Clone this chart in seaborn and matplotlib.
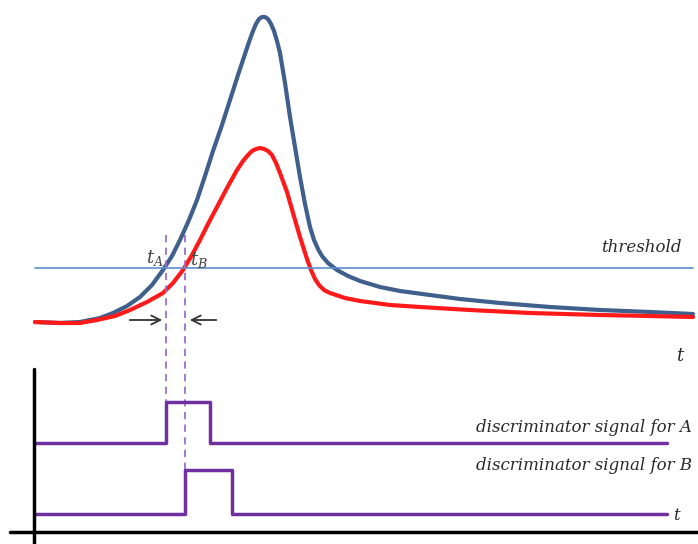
import numpy as np
import pandas as pd
import seaborn as sns
import matplotlib.pyplot as plt

# curves (x, y in picture pixels, y grows downward)
blue_x = [35, 60, 80, 100, 113, 127, 140, 152, 163, 172, 180, 189, 197, 205, 213, 222, 230, 238, 244, 249, 253, 256, 259, 262, 265, 268, 271, 274, 277, 280, 285, 290, 295, 300, 305, 310, 314, 318, 322, 328, 337, 348, 360, 380, 400, 430, 460, 500, 550, 600, 650, 693]
blue_y = [322, 323, 322, 318, 313, 306, 297, 285, 270, 256, 240, 220, 200, 176, 151, 125, 100, 75, 57, 42, 31, 24, 19, 17, 17, 19, 24, 31, 41, 53, 83, 117, 147, 177, 204, 227, 240, 249, 256, 263, 270, 276, 281, 287, 291, 295, 299, 303, 307, 310, 312, 314]
red_x = [35, 60, 80, 97, 115, 130, 147, 163, 173, 183, 192, 200, 208, 217, 227, 237, 243, 248, 252, 256, 260, 264, 268, 272, 276, 280, 287, 293, 300, 307, 311, 315, 319, 324, 330, 345, 360, 390, 420, 470, 530, 600, 650, 693]
red_y = [322, 323, 323, 320, 316, 310, 302, 293, 283, 270, 255, 240, 224, 207, 188, 170, 161, 155, 151, 149, 148, 149, 151, 155, 163, 173, 192, 213, 237, 259, 270, 279, 285, 290, 293, 298, 301, 305, 307, 310, 313, 315, 316, 317]
threshold_y = 268
t_a, t_b = 166, 185

sig_a_x = [35, t_a, t_a, 210, 210, 667]
sig_a_y = [443, 443, 402, 402, 443, 443]
sig_b_x = [35, t_b, t_b, 232, 232, 667]
sig_b_y = [514, 514, 470, 470, 514, 514]

sns.set_style("white")
plt.rcParams['font.family'] = ['DejaVu Serif']
plt.rcParams['mathtext.fontset'] = 'dejavuserif'

fig = plt.figure(figsize=(6.98, 5.44), dpi=100)
ax = fig.add_axes([0, 0, 1, 1])
ax.set_xlim(0, 698)
ax.set_ylim(544, 0)
ax.axis('off')

purple = '#7030a0'
sns.lineplot(x=blue_x, y=blue_y, sort=False, estimator=None, color='#3f5f8c', lw=3, ax=ax)
sns.lineplot(x=red_x, y=red_y, sort=False, estimator=None, color='#ff1a1a', lw=3, ax=ax)
ax.plot([35, 693], [threshold_y, threshold_y], color='#5b8fd0', lw=1.2)

ax.plot([t_a, t_a], [235, 402], color='#9b6fce', lw=1.3, ls=(0, (4, 3)))
ax.plot([t_b, t_b], [235, 470], color='#9b6fce', lw=1.3, ls=(0, (4, 3)))

sns.lineplot(x=sig_a_x, y=sig_a_y, sort=False, estimator=None, color=purple, lw=2.5, ax=ax)
sns.lineplot(x=sig_b_x, y=sig_b_y, sort=False, estimator=None, color=purple, lw=2.5, ax=ax)

# axes of the lower panel
ax.plot([34, 34], [369, 544], color='black', lw=2.5)
ax.plot([10, 698], [532, 532], color='black', lw=2.5)

arrow = dict(arrowstyle='->', color='#333333', lw=1.3, mutation_scale=16)
ax.annotate('', xy=(t_a - 1, 320), xytext=(127, 320), arrowprops=arrow)
ax.annotate('', xy=(t_b + 2, 320), xytext=(219, 320), arrowprops=arrow)

txt = dict(style='italic', color='#2a2a2a', fontsize=12)
ax.text(682, 248, 'threshold', ha='right', va='center', **txt)
ax.text(146, 258, '$t_A$', ha='left', va='center', color='#444444', fontsize=13)
ax.text(190, 260, '$t_B$', ha='left', va='center', color='#444444', fontsize=13)
ax.text(676, 356, '$t$', ha='left', va='center', color='#2a2a2a', fontsize=13)
ax.text(692, 427, 'discriminator signal for A', ha='right', va='center', **txt)
ax.text(692, 466, 'discriminator signal for B', ha='right', va='center', **txt)
ax.text(673, 515, '$t$', ha='left', va='center', color='#2a2a2a', fontsize=12)

fig.savefig('out.png', dpi=100)
